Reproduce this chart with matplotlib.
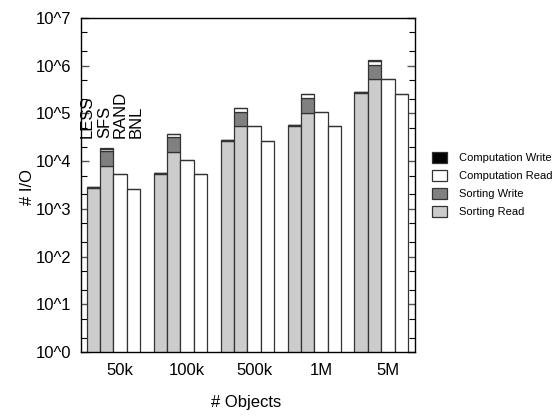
import matplotlib
matplotlib.use('Agg')
import numpy as np
import matplotlib.pyplot as plt
from matplotlib.patches import Patch
from matplotlib.ticker import FixedLocator, NullFormatter, LogLocator

plt.rcParams['font.family'] = ['Liberation Sans', 'DejaVu Sans']

# data
groups = ['50k', '100k', '500k', '1M', '5M']
methods = ['LESS', 'SFS', 'RAND', 'BNL']

sort_read = {
    'LESS': [2750, 5450, 26800, 54600, 268000],
    'SFS':  [8000, 15500, 54600, 104000, 527000],
    'RAND': [0, 0, 0, 0, 0],
    'BNL':  [0, 0, 0, 0, 0],
}
sort_write = {
    'LESS': [120, 200, 900, 1800, 8000],
    'SFS':  [8300, 17000, 51000, 103500, 508000],
    'RAND': [0, 0, 0, 0, 0],
    'BNL':  [0, 0, 0, 0, 0],
}
comp_read = {
    'LESS': [30, 50, 200, 400, 1500],
    'SFS':  [2000, 4300, 25000, 50000, 250000],
    'RAND': [5300, 10700, 53800, 105700, 527000],
    'BNL':  [2650, 5300, 26500, 53800, 260000],
}
comp_write = {
    'LESS': [10, 20, 60, 120, 500],
    'SFS':  [200, 300, 1200, 2100, 15000],
    'RAND': [0, 0, 0, 0, 0],
    'BNL':  [0, 0, 0, 0, 0],
}
label_x = [-0.44, 0.87, 1.98, 3.18]

layers = [
    (sort_read, '#cccccc', 'Sorting Read'),
    (sort_write, '#808080', 'Sorting Write'),
    (comp_read, 'white', 'Computation Read'),
    (comp_write, 'black', 'Computation Write'),
]

fig = plt.figure(figsize=(5.6, 4.16), dpi=100)
ax = fig.add_axes([81/560, 1-352/416, (415-81)/560, (352-18)/416])

for j, m in enumerate(methods):
    x = np.arange(len(groups)) * 5 + j
    bottom = np.zeros(len(groups))
    for data, col, name in layers:
        vals = np.array(data[m], dtype=float)
        ax.bar(x, vals, width=1.0, bottom=bottom, color=col,
               edgecolor='#333333', linewidth=0.9, zorder=2)
        bottom = bottom + vals

for lx, m in zip(label_x, methods):
    ax.text(lx, 3.0e4, m, rotation=90, ha='center', va='bottom', fontsize=12)

ax.set_yscale('log')
ax.set_ylim(1, 1e7)
ax.set_xlim(-0.92, 24.02)
ax.yaxis.set_major_locator(FixedLocator([10.0**k for k in range(8)]))
ax.set_yticklabels(['10^%d' % k for k in range(8)])
ax.yaxis.set_minor_locator(LogLocator(base=10, subs=(2, 5), numticks=20))
ax.yaxis.set_minor_formatter(NullFormatter())
ax.set_xticks(np.arange(len(groups)) * 5 + 2)
ax.set_xticklabels(groups)
ax.tick_params(axis='y', which='both', direction='in', left=True, right=True, labelsize=12, pad=7)
ax.tick_params(axis='y', which='major', length=6, width=1, color='#555555')
ax.tick_params(axis='y', which='minor', length=4, width=0.8)
ax.tick_params(axis='x', length=0, labelsize=12, pad=8)
for s in ax.spines.values():
    s.set_linewidth(1.0)
    s.set_color('black')

fig.text(27/560, 1-187/416, '# I/O', rotation=90, ha='center', va='center', fontsize=12)
fig.text(246/560, 1-403/416, '# Objects', ha='center', va='center', fontsize=12)

handles = [Patch(facecolor=c, edgecolor='#333333', linewidth=0.9) for _, c, _ in layers][::-1]
labels = [n for _, _, n in layers][::-1]
fig.legend(handles, labels, loc='upper left', bbox_to_anchor=(432/560, 1-152/416),
           frameon=False, fontsize=8, borderpad=0, borderaxespad=0,
           handlelength=1.35, handleheight=1.15, handletextpad=1.1, labelspacing=0.6)

fig.savefig('out.png', dpi=100)
